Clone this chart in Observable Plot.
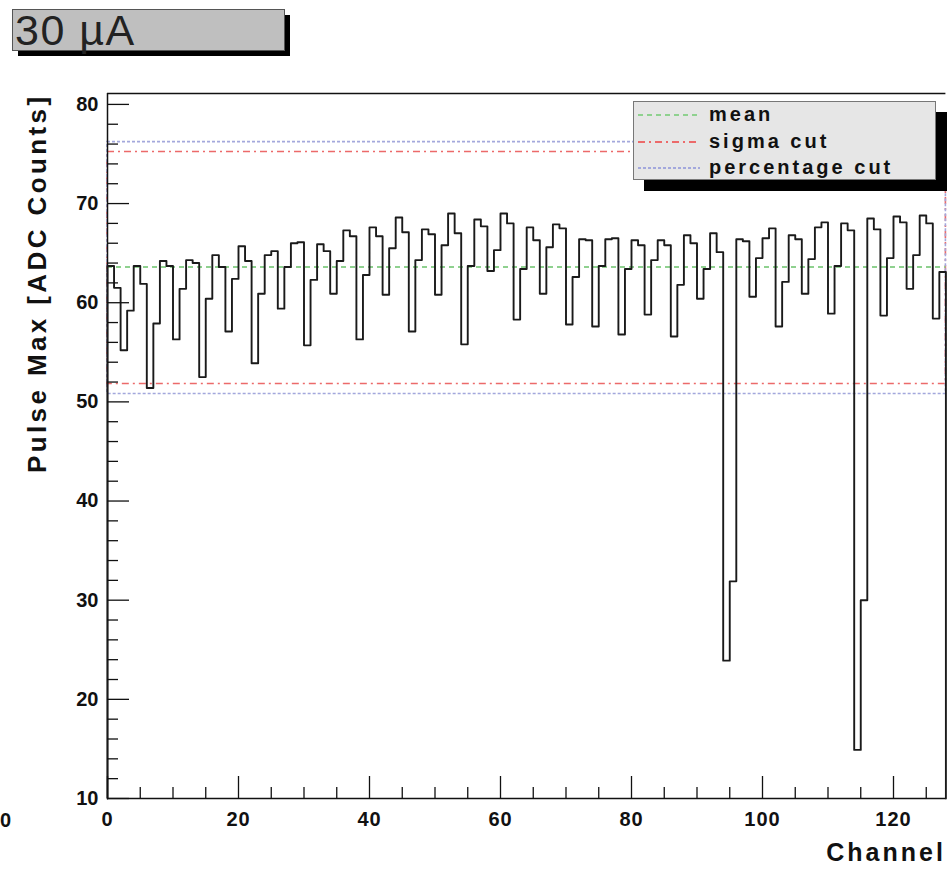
<!DOCTYPE html>
<html>
<head>
<meta charset="utf-8">
<script src="https://cdn.jsdelivr.net/npm/d3@7"></script>
<script src="https://cdn.jsdelivr.net/npm/@observablehq/plot@0.6"></script>
<style>
  body { margin: 0; background: #fff; font-family: "Liberation Sans", Arial, Helvetica, sans-serif; }
  #wrap { position: relative; width: 947px; height: 870px; overflow: hidden; background: #fff; }
  #chart { position: absolute; left: 0; top: 0; }
  #titleShadow { position: absolute; left: 18px; top: 15px; width: 272px; height: 41px; background: #000; }
  #title { position: absolute; left: 12px; top: 9px; width: 273px; height: 42px; background: #bfbfbf;
           border: 1px solid #555; box-sizing: border-box; font-size: 43px; line-height: 40px;
           color: #222; padding-left: 2px; letter-spacing: 1.5px; white-space: nowrap; }
  #legShadow { position: absolute; left: 644px; top: 112px; width: 310px; height: 79px; background: #000; }
  #legend { position: absolute; left: 633px; top: 101px; width: 303px; height: 79px; background: #e6e6e6;
            border: 1px solid #777; box-sizing: border-box; }
  .row { position: absolute; left: 0; height: 26px; width: 300px; }
  .row svg { position: absolute; left: 4px; top: 0; }
  .row span { position: absolute; left: 75px; top: -1px; line-height: 26px; font-size: 20px; font-weight: bold;
              letter-spacing: 3px; color: #111; white-space: nowrap; }
  #stray { position: absolute; left: 0px; top: 808px; font-size: 20px; font-weight: bold; color: #111; line-height: 24px; }
</style>
</head>
<body>
<div id="wrap">
  <div id="chart"></div>
  <div id="titleShadow"></div>
  <div id="title">30 µA</div>
  <div id="legShadow"></div>
  <div id="legend"></div>
  <div id="stray">0</div>
</div>
<script>
// Pulse max per channel (0..127)
const pulseMax = [
  63.7, 61.5, 55.2, 59.2, 63.7, 61.9, 51.4, 57.9,
  64.2, 63.7, 56.3, 61.4, 64.3, 64.0, 52.5, 60.4,
  64.8, 63.6, 57.1, 62.4, 65.7, 64.2, 53.9, 60.9,
  64.8, 65.2, 59.4, 63.6, 66.0, 66.1, 55.7, 62.3,
  65.9, 65.2, 60.9, 64.2, 67.3, 66.7, 56.3, 62.8,
  67.6, 66.7, 60.8, 65.5, 68.6, 67.1, 57.1, 64.3,
  67.4, 66.9, 60.8, 65.8, 69.0, 67.0, 55.8, 63.7,
  68.4, 67.7, 63.2, 65.3, 69.0, 68.0, 58.3, 63.4,
  67.6, 66.3, 60.9, 65.6, 67.9, 67.5, 57.8, 62.6,
  66.4, 66.3, 57.6, 63.7, 66.4, 66.5, 56.8, 63.4,
  66.3, 65.8, 58.8, 64.3, 66.3, 65.8, 56.6, 61.8,
  66.8, 66.0, 60.4, 63.4, 67.0, 65.1, 23.9, 31.9,
  66.4, 66.2, 60.6, 64.5, 66.5, 67.5, 57.6, 62.1,
  66.8, 66.4, 60.9, 64.4, 67.6, 68.1, 58.9, 63.7,
  68.0, 67.3, 14.9, 30.0, 68.5, 67.4, 58.7, 64.5,
  68.7, 68.1, 61.4, 64.8, 68.8, 68.0, 58.4, 63.1
];
const meanValue = 63.6;
const sigmaCut = [51.8, 75.2];
const percentageCut = [50.8, 76.2];

const legendLabels = ["mean", "sigma cut", "percentage cut"];
const lineColors = { mean: "#8fd18f", sigma: "#ec6a6a", percentage: "#a3a8dc" };
const dashes = { mean: "5,4", sigma: "7,4,2,4", percentage: "3,2" };

const xTicks = [0, 20, 40, 60, 80, 100, 120];
const xMinorTicks = [5, 10, 15, 25, 30, 35, 45, 50, 55, 65, 70, 75, 85, 90, 95, 105, 110, 115, 125];
const yTicks = [10, 20, 30, 40, 50, 60, 70, 80];
const yMinorTicks = [12, 14, 16, 18, 22, 24, 26, 28, 32, 34, 36, 38, 42, 44, 46, 48, 52, 54, 56, 58,
                     62, 64, 66, 68, 72, 74, 76, 78];
const xLabel = "Channel";
const yLabel = "Pulse Max [ADC Counts]";

const nCh = pulseMax.length;
const yMin = 10, yMax = 81.1;

// histogram outline (ROOT style: from baseline, steps, back to baseline)
const outline = [{x: 0, y: yMin}]
  .concat(pulseMax.map((v, i) => ({x: i, y: v})))
  .concat([{x: nCh, y: pulseMax[nCh - 1]}, {x: nCh, y: yMin}]);

const plot = Plot.plot({
  width: 947,
  height: 870,
  marginLeft: 107,
  marginRight: 1.6,
  marginTop: 93,
  marginBottom: 72,
  x: {domain: [0, nCh]},
  y: {domain: [yMin, yMax]},
  style: {fontFamily: "Liberation Sans, Arial, Helvetica, sans-serif", fontSize: "20px", fontWeight: "bold", color: "#111", background: "white", overflow: "visible"},
  marks: [
    // cut boxes
    Plot.rect([{lo: sigmaCut[0], hi: sigmaCut[1]}], {x1: 0, x2: nCh, y1: "lo", y2: "hi", fill: "none", stroke: lineColors.sigma, strokeWidth: 1.6, strokeDasharray: dashes.sigma}),
    Plot.rect([{lo: percentageCut[0], hi: percentageCut[1]}], {x1: 0, x2: nCh, y1: "lo", y2: "hi", fill: "none", stroke: lineColors.percentage, strokeWidth: 1.6, strokeDasharray: dashes.percentage}),
    Plot.ruleY([meanValue], {stroke: lineColors.mean, strokeWidth: 1.8, strokeDasharray: dashes.mean}),
    // frame lines
    Plot.ruleY([yMax], {stroke: "#111", strokeWidth: 1.5}),
    Plot.ruleY([yMin], {stroke: "#111", strokeWidth: 1.5}),
    Plot.ruleX([0], {stroke: "#111", strokeWidth: 1.5}),
    // histogram
    Plot.line(outline, {x: "x", y: "y", curve: "step-after", stroke: "#1a1a1a", strokeWidth: 1.9}),
    // ticks inside the frame
    Plot.axisY(yTicks, {tickSize: -22, tickFormat: () => "", strokeWidth: 1.3, label: null}),
    Plot.axisY(yMinorTicks, {tickSize: -11, tickFormat: () => "", strokeWidth: 1.3, label: null}),
    Plot.axisX(xTicks, {tickSize: -22, tickFormat: () => "", strokeWidth: 1.3, label: null}),
    Plot.axisX(xMinorTicks, {tickSize: -11, tickFormat: () => "", strokeWidth: 1.3, label: null}),
    // tick labels
    Plot.axisY(yTicks, {tickSize: 0, tickPadding: 9, label: null, fontSize: 20, fontWeight: "bold"}),
    Plot.axisX(xTicks, {tickSize: 0, tickPadding: 13, label: null, fontSize: 20, fontWeight: "bold"}),
    // axis titles
    Plot.text([xLabel], {frameAnchor: "bottom-right", dx: 0, dy: 62, textAnchor: "end", fontSize: 25, fontWeight: "bold"}),
    Plot.text([yLabel], {frameAnchor: "top-left", dx: -80, dy: 0, rotate: -90, textAnchor: "end", fontSize: 26, fontWeight: "bold"})
  ]
});

plot.querySelectorAll("text").forEach(t => {
  if (t.textContent === xLabel) t.style.letterSpacing = "3px";
  if (t.textContent === yLabel) t.style.letterSpacing = "3.4px";
});
plot.querySelectorAll('g[aria-label="x-axis tick label"] text').forEach(t => t.style.letterSpacing = "1px");
document.getElementById("chart").appendChild(plot);

// legend
const legend = document.getElementById("legend");
const keys = ["mean", "sigma", "percentage"];
const rowTops = [0, 27, 53];
legendLabels.forEach((lab, i) => {
  const row = document.createElement("div");
  row.className = "row";
  row.style.top = rowTops[i] + "px";
  const k = keys[i];
  row.innerHTML = `<svg width="64" height="26"><line x1="0" x2="62" y1="13" y2="13" stroke="${lineColors[k]}" stroke-width="1.8" stroke-dasharray="${dashes[k]}"/></svg><span>${lab}</span>`;
  legend.appendChild(row);
});
</script>
</body>
</html>
